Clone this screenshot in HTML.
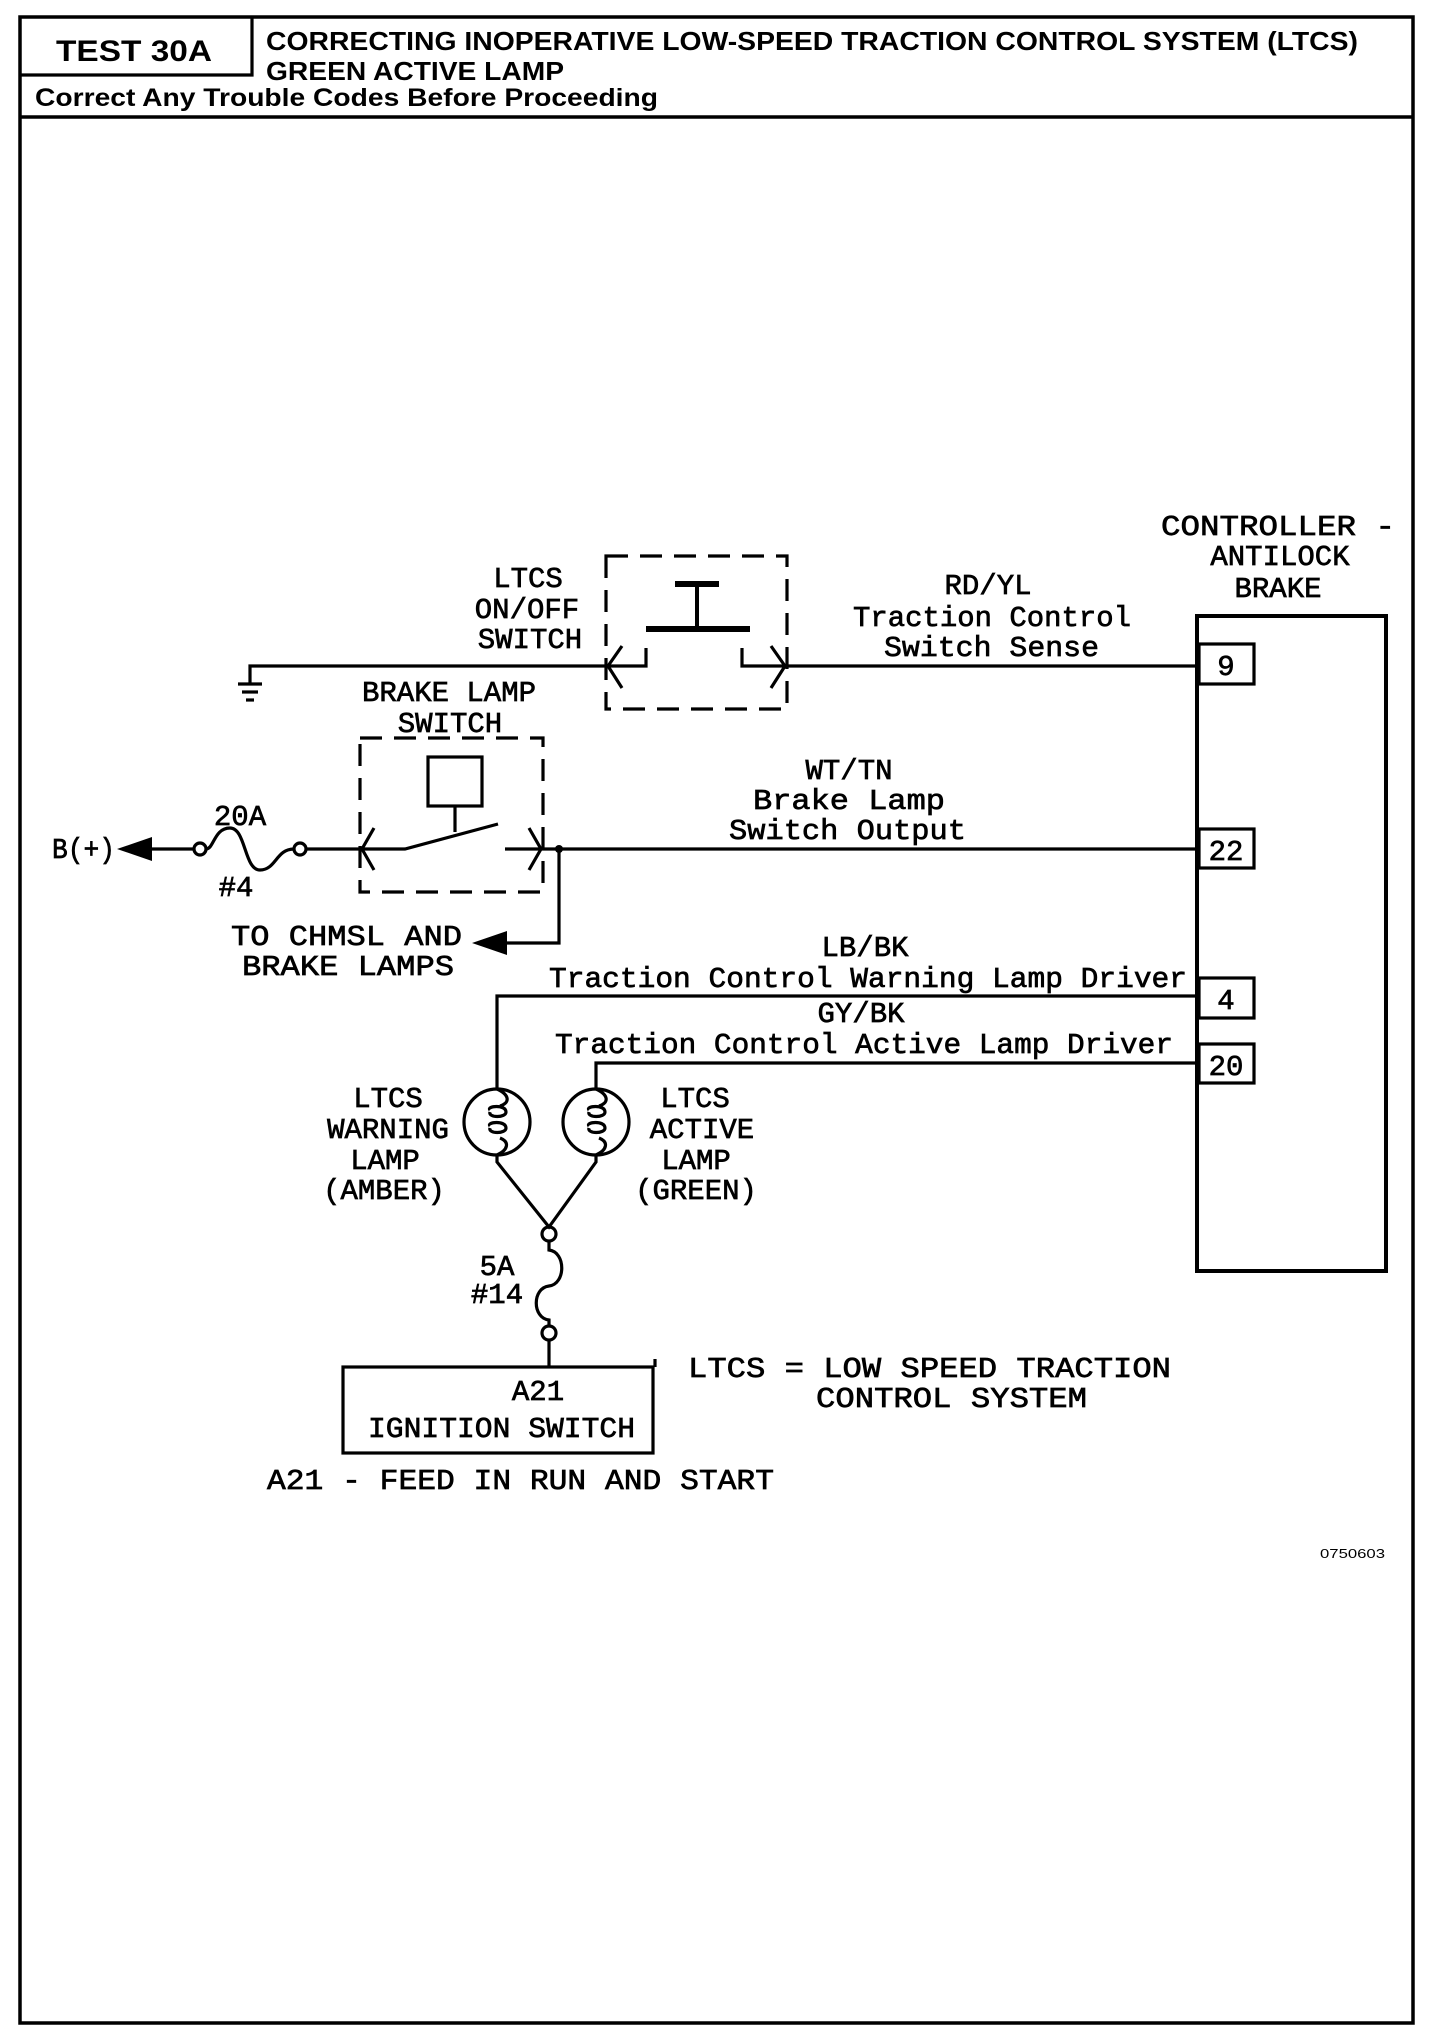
<!DOCTYPE html>
<html><head><meta charset="utf-8"><style>
html,body{margin:0;padding:0;background:#fff;}
svg{display:block;}
.m{font-family:"Liberation Mono",monospace;font-size:29px;fill:#000;stroke:#000;stroke-width:0.7px;}
.h{font-family:"Liberation Sans",sans-serif;font-weight:bold;fill:#000;}
</style></head><body>
<svg width="1456" height="2034" viewBox="0 0 1456 2034" xmlns="http://www.w3.org/2000/svg">
<g fill="none" stroke="#000" stroke-width="3.2">
<rect x="20" y="17" width="1393" height="2006" stroke-width="3.5"/>
<polyline points="20,75 252,75 252,17"/>
<line x1="20" y1="117" x2="1413" y2="117" stroke-width="3.5"/>
<rect x="1197" y="616" width="189" height="655" stroke-width="4"/>
<rect x="1199" y="644" width="55" height="40"/>
<rect x="1199" y="829" width="55" height="39"/>
<rect x="1199" y="978" width="55" height="40"/>
<rect x="1199" y="1044" width="55" height="39"/>
<line x1="787" y1="666" x2="1199" y2="666"/>
<line x1="543" y1="849" x2="1199" y2="849"/>
<polyline points="1199,996 497,996 497,1089"/>
<polyline points="1199,1063 596,1063 596,1089"/>
<rect x="606" y="556" width="181" height="153" stroke-dasharray="22,12"/>
<line x1="675" y1="584" x2="719" y2="584" stroke-width="6"/>
<line x1="697" y1="584" x2="697" y2="628" stroke-width="4"/>
<line x1="646" y1="629" x2="750" y2="629" stroke-width="6"/>
<polyline points="606,666 646,666 646,648"/>
<polyline points="787,666 742,666 742,648"/>
<polyline points="622,646 608,666 622,688"/>
<polyline points="771,646 785,666 771,688"/>
<polyline points="606,666 250,666 250,684"/>
<line x1="238" y1="684" x2="262" y2="684"/>
<line x1="242" y1="692" x2="258" y2="692"/>
<line x1="246" y1="700" x2="254" y2="700"/>
<rect x="360" y="738" width="183" height="154" stroke-dasharray="22,12"/>
<rect x="428" y="757" width="54" height="49"/>
<line x1="455" y1="806" x2="455" y2="832"/>
<polyline points="360,849 405,849 498,824"/>
<line x1="505" y1="849" x2="543" y2="849"/>
<polyline points="374,828 362,849 374,870"/>
<polyline points="529,828 541,849 529,870"/>
<polyline points="559,849 559,943 505,943"/>
<line x1="150" y1="849" x2="194" y2="849"/>
<circle cx="200" cy="849" r="6"/>
<path d="M206,849 C214,849 214,828 230,828 C246,828 244,870 260,870 C276,870 276,849 294,849"/>
<circle cx="300" cy="849" r="6"/>
<line x1="306" y1="849" x2="360" y2="849"/>
<circle cx="497" cy="1122" r="33"/>
<circle cx="596" cy="1122" r="33"/>
<path d="M497,1089 C510,1095 510,1103 500,1106 M490,1110 C486,1106 506,1104 506,1112 C506,1118 488,1118 490,1112 M490,1126 C486,1122 506,1120 506,1128 C506,1134 488,1134 490,1128 M500,1138 C510,1142 508,1150 497,1155"/>
<path d="M596,1089 C609,1095 609,1103 599,1106 M589,1110 C585,1106 605,1104 605,1112 C605,1118 587,1118 589,1112 M589,1126 C585,1122 605,1120 605,1128 C605,1134 587,1134 589,1128 M599,1138 C609,1142 607,1150 596,1155"/>
<polyline points="497,1155 497,1162 549,1227 596,1162 596,1155"/>
<circle cx="549" cy="1234" r="7"/>
<path d="M549,1241 L549,1250 C566,1252 566,1284 549,1286 C532,1288 532,1318 549,1320 L549,1326"/>
<circle cx="549" cy="1333" r="7"/>
<line x1="549" y1="1340" x2="549" y2="1367"/>
<rect x="343" y="1367" width="310" height="86"/>
<line x1="655" y1="1367" x2="655" y2="1359"/>
</g>
<polygon points="117,849 152,837 152,861" fill="#000"/>
<polygon points="472,943 507,931 507,955" fill="#000"/>
<circle cx="559" cy="849" r="4" fill="#000"/>
<text class="h" x="56" y="61" font-size="30" textLength="156" lengthAdjust="spacingAndGlyphs">TEST 30A</text>
<text class="h" x="266" y="50" font-size="26" textLength="1092" lengthAdjust="spacingAndGlyphs">CORRECTING INOPERATIVE LOW-SPEED TRACTION CONTROL SYSTEM (LTCS)</text>
<text class="h" x="266" y="80" font-size="26" textLength="298" lengthAdjust="spacingAndGlyphs">GREEN ACTIVE LAMP</text>
<text class="h" x="35" y="106" font-size="25" textLength="623" lengthAdjust="spacingAndGlyphs">Correct Any Trouble Codes Before Proceeding</text>
<g class="m">
<text x="1161" y="535" textLength="234" lengthAdjust="spacingAndGlyphs">CONTROLLER -</text>
<text x="1280" y="565" text-anchor="middle">ANTILOCK</text>
<text x="1278" y="597" text-anchor="middle">BRAKE</text>
<text x="1226" y="675" text-anchor="middle">9</text>
<text x="1226" y="860" text-anchor="middle">22</text>
<text x="1226" y="1009" text-anchor="middle">4</text>
<text x="1226" y="1075" text-anchor="middle">20</text>
<text x="988" y="594" text-anchor="middle">RD/YL</text>
<text x="853" y="626" textLength="278" lengthAdjust="spacingAndGlyphs">Traction Control</text>
<text x="884" y="656" textLength="215" lengthAdjust="spacingAndGlyphs">Switch Sense</text>
<text x="849" y="779" text-anchor="middle">WT/TN</text>
<text x="753" y="809" textLength="192" lengthAdjust="spacingAndGlyphs">Brake Lamp</text>
<text x="729" y="839" textLength="237" lengthAdjust="spacingAndGlyphs">Switch Output</text>
<text x="865" y="956" text-anchor="middle">LB/BK</text>
<text x="549" y="987" textLength="638" lengthAdjust="spacingAndGlyphs">Traction Control Warning Lamp Driver</text>
<text x="861" y="1022" text-anchor="middle">GY/BK</text>
<text x="555" y="1053" textLength="618" lengthAdjust="spacingAndGlyphs">Traction Control Active Lamp Driver</text>
<text x="528" y="587" text-anchor="middle">LTCS</text>
<text x="527" y="618" text-anchor="middle">ON/OFF</text>
<text x="530" y="648" text-anchor="middle">SWITCH</text>
<text x="449" y="701" text-anchor="middle">BRAKE LAMP</text>
<text x="450" y="732" text-anchor="middle">SWITCH</text>
<text x="52" y="858" textLength="63" lengthAdjust="spacingAndGlyphs">B(+)</text>
<text x="240" y="825" text-anchor="middle">20A</text>
<text x="236" y="896" text-anchor="middle">#4</text>
<text x="231" y="945" textLength="231" lengthAdjust="spacingAndGlyphs">TO CHMSL AND</text>
<text x="242" y="975" textLength="212" lengthAdjust="spacingAndGlyphs">BRAKE LAMPS</text>
<text x="388" y="1107" text-anchor="middle">LTCS</text>
<text x="388" y="1138" text-anchor="middle">WARNING</text>
<text x="385" y="1169" text-anchor="middle">LAMP</text>
<text x="384" y="1199" text-anchor="middle">(AMBER)</text>
<text x="695" y="1107" text-anchor="middle">LTCS</text>
<text x="702" y="1138" text-anchor="middle">ACTIVE</text>
<text x="696" y="1169" text-anchor="middle">LAMP</text>
<text x="696" y="1199" text-anchor="middle">(GREEN)</text>
<text x="497" y="1275" text-anchor="middle">5A</text>
<text x="497" y="1303" text-anchor="middle">#14</text>
<text x="538" y="1400" text-anchor="middle">A21</text>
<text x="368" y="1437" textLength="267" lengthAdjust="spacingAndGlyphs">IGNITION SWITCH</text>
<text x="688" y="1377" textLength="483" lengthAdjust="spacingAndGlyphs">LTCS = LOW SPEED TRACTION</text>
<text x="816" y="1407" textLength="271" lengthAdjust="spacingAndGlyphs">CONTROL SYSTEM</text>
<text x="267" y="1489" textLength="507" lengthAdjust="spacingAndGlyphs">A21 - FEED IN RUN AND START</text>
</g>
<text x="1320" y="1558" font-family="Liberation Sans, sans-serif" font-size="13" textLength="65" lengthAdjust="spacingAndGlyphs">0750603</text>
</svg>
</body></html>
